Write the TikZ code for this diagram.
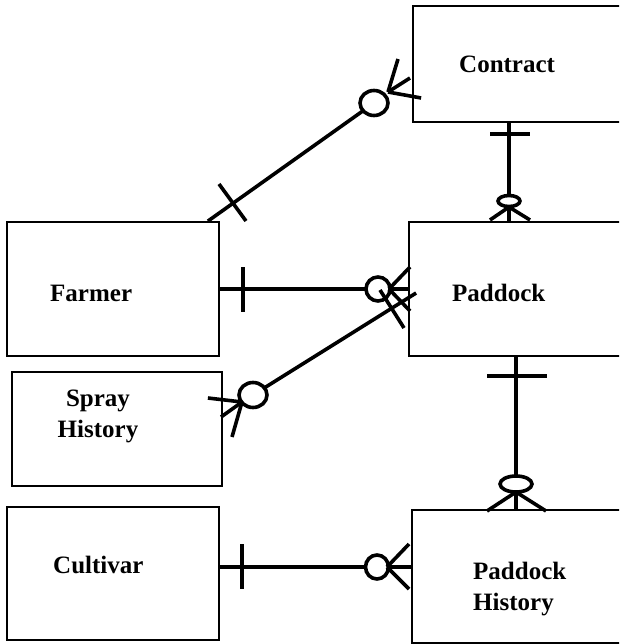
\documentclass[tikz,border=0pt]{standalone}
\usepackage{fontspec}
\setmainfont{Liberation Serif}
\usetikzlibrary{calc}
\begin{document}
\begin{tikzpicture}[x=1pt,y=-1pt,
  box/.style={draw=black, line width=1.8pt, rectangle, inner sep=0pt},
  lbl/.style={font=\fontsize{25}{31}\selectfont\bfseries, inner sep=0pt},
  rel/.style={line width=3.6pt},
  ring/.style={line width=3.6pt, fill=white}]
\clip (0,0) rectangle (619,644);
% entity boxes
\node[box, minimum width=227pt, minimum height=116pt] (contract) at (526.5,64) {};
\node[box, minimum width=231pt, minimum height=134pt] (paddock) at (524.5,289) {};
\node[box, minimum width=212pt, minimum height=134pt] (farmer) at (113,289) {};
\node[box, minimum width=210pt, minimum height=114pt] (spray) at (117,429) {};
\node[box, minimum width=212pt, minimum height=133pt] (cultivar) at (113,573.5) {};
\node[box, minimum width=228pt, minimum height=133pt] (phist) at (526,576.5) {};
% labels
\node[lbl, anchor=base west] (tcontract) at (459,73) {Contract};
\node[lbl, anchor=base west] (tfarmer) at (50,301) {Farmer};
\node[lbl, anchor=base west] (tpaddock) at (452,301) {Paddock};
\node[lbl, anchor=base west] (tcultivar) at (53,573) {Cultivar};
\node[lbl, anchor=north, align=center] (tspray) at (98,390) {Spray\\History};
\node[lbl, anchor=north west, align=left] (tphist) at (473,562) {Paddock\\History};
% 1: Farmer -- Contract
\coordinate (fc-o) at (374,103);
\coordinate (fc-x) at (388,92);
\draw[rel] ($(farmer.north east)+(-12,0)$) -- (fc-o);
\draw[rel] (219,184) -- (246,221);
\draw[ring] (fc-o) ellipse [x radius=14pt, y radius=12.5pt];
\draw[rel] (fc-x) -- (398,59);
\draw[rel] (fc-x) -- (410,78);
\draw[rel] (fc-x) -- ($(contract.west)+(9,34)$);
% 2: Farmer -- Paddock
\coordinate (fp-o) at (378,289);
\coordinate (fp-x) at (389,289);
\draw[rel] (farmer.east) -- (paddock.west);
\draw[rel] (243,267) -- (243,312);
\draw[ring] (fp-o) circle [radius=12pt];
\draw[rel] (fp-x) -- (410,267);
\draw[rel] (fp-x) -- (410,311);
% 3: Spray History -- Paddock
\coordinate (sp-o) at (253,395);
\coordinate (sp-x) at (242,402);
\draw[rel] (sp-o) -- ($(paddock.west)+(8,4)$);
\draw[rel] (380,290) -- (404,328);
\draw[ring] (sp-o) ellipse [x radius=14pt, y radius=12.5pt];
\draw[rel] (sp-x) -- ($(spray.east)+(-15,-31)$);
\draw[rel] (sp-x) -- (221,417);
\draw[rel] (sp-x) -- (232,437);
% 4: Contract -- Paddock
\coordinate (cp-o) at (509,201);
\coordinate (cp-x) at (509,207);
\draw[rel] ($(contract.south)+(-17.5,0)$) -- ($(paddock.north)+(-15.5,0)$);
\draw[rel] (490,134) -- (530,134);
\draw[ring] (cp-o) ellipse [x radius=11pt, y radius=5.5pt];
\draw[rel] (cp-x) -- (490,220);
\draw[rel] (cp-x) -- (530,220);
% 5: Paddock -- Paddock History
\coordinate (pp-o) at (516,484);
\coordinate (pp-x) at (516,492);
\draw[rel] ($(paddock.south)+(-8.5,0)$) -- ($(phist.north)+(-10,0)$);
\draw[rel] (487,376) -- (547,376);
\draw[ring] (pp-o) ellipse [x radius=16pt, y radius=8pt];
\draw[rel] (pp-x) -- (487,511);
\draw[rel] (pp-x) -- (546,511);
% 6: Cultivar -- Paddock History
\coordinate (ch-o) at (377,567);
\coordinate (ch-x) at (387,567);
\draw[rel] ($(cultivar.east)+(0,-6.5)$) -- ($(phist.west)+(0,-9.5)$);
\draw[rel] (242,544) -- (242,589);
\draw[ring] (ch-o) ellipse [x radius=11.5pt, y radius=12pt];
\draw[rel] (ch-x) -- (409,544);
\draw[rel] (ch-x) -- (409,589);
\end{tikzpicture}
\end{document}
